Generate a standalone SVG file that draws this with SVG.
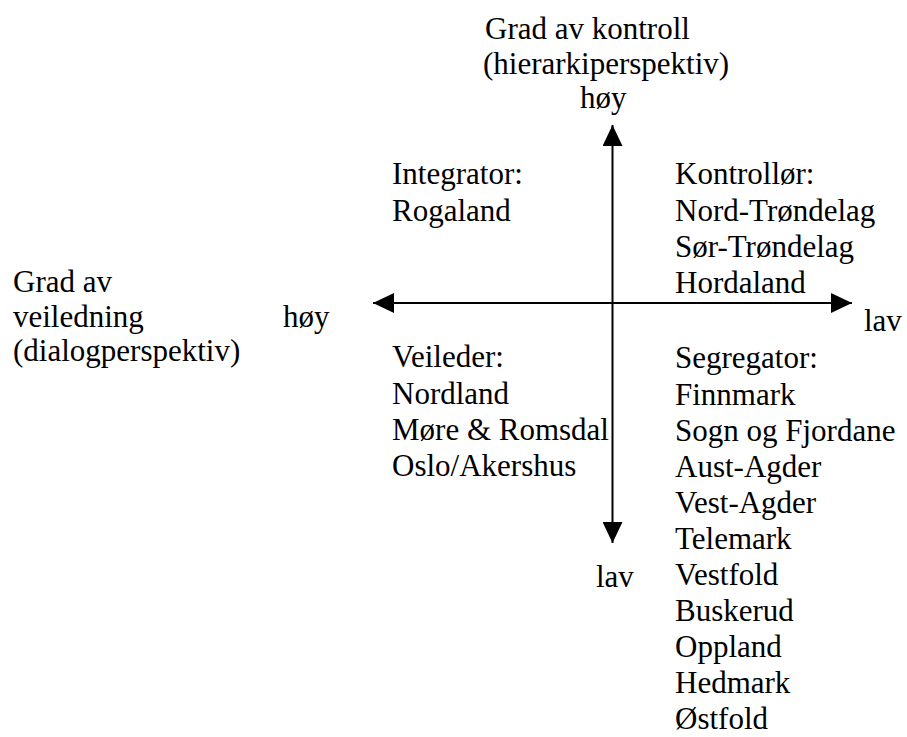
<svg xmlns="http://www.w3.org/2000/svg" width="907" height="737" viewBox="0 0 907 737">
<style>
text{font-family:"Liberation Serif","Times New Roman",serif;font-size:31px;fill:#000}
.ax{stroke:#000;stroke-width:2;fill:none}
</style>
<defs>
<marker id="ah" viewBox="0 0 21 20" refX="21" refY="10" markerWidth="21" markerHeight="20" markerUnits="userSpaceOnUse" orient="auto-start-reverse">
<path d="M0,0 L21,10 L0,20 Z" fill="#000"/>
</marker>
</defs>
<rect width="907" height="737" fill="#fff"/>
<g id="connectors">
<line class="ax" x1="612.5" y1="543" x2="612.5" y2="125" marker-end="url(#ah)" marker-start="url(#ah)"/>
<line class="ax" x1="373" y1="303" x2="852" y2="303" marker-end="url(#ah)" marker-start="url(#ah)"/>
</g>
<g id="y-axis-label">
<text x="485" y="39">Grad av kontroll</text>
<text x="483" y="74">(hierarkiperspektiv)</text>
<text x="580" y="108">høy</text>
</g>
<g id="y-axis-low"><text x="596" y="587">lav</text></g>
<g id="x-axis-label">
<text x="13" y="292">Grad av</text>
<text x="13" y="327">veiledning</text>
<text x="13" y="361">(dialogperspektiv)</text>
<text x="283" y="327">høy</text>
</g>
<g id="x-axis-low"><text x="864" y="331">lav</text></g>
<g id="integrator">
<text x="392" y="184">Integrator:</text>
<text x="392" y="221">Rogaland</text>
</g>
<g id="kontrollor">
<text x="675" y="184">Kontrollør:</text>
<text x="675" y="221">Nord-Trøndelag</text>
<text x="675" y="257">Sør-Trøndelag</text>
<text x="675" y="293">Hordaland</text>
</g>
<g id="veileder">
<text x="392" y="367">Veileder:</text>
<text x="392" y="404">Nordland</text>
<text x="392" y="440">Møre &amp; Romsdal</text>
<text x="392" y="476">Oslo/Akershus</text>
</g>
<g id="segregator">
<text x="675" y="368">Segregator:</text>
<text x="675" y="405">Finnmark</text>
<text x="675" y="441">Sogn og Fjordane</text>
<text x="675" y="477">Aust-Agder</text>
<text x="675" y="513">Vest-Agder</text>
<text x="675" y="549">Telemark</text>
<text x="675" y="585">Vestfold</text>
<text x="675" y="621">Buskerud</text>
<text x="675" y="657">Oppland</text>
<text x="675" y="693">Hedmark</text>
<text x="675" y="729">Østfold</text>
</g>
</svg>
